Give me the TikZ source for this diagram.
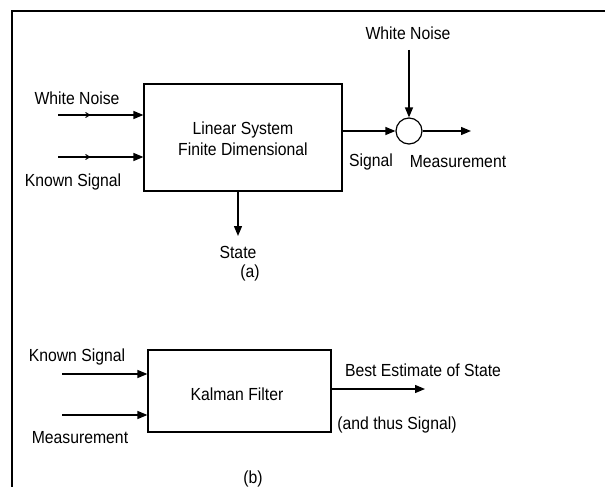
\documentclass[tikz,border=0pt]{standalone}
\usepackage{fontspec}
\setmainfont{Liberation Sans}[FakeStretch=0.9]
\usetikzlibrary{arrows.meta,decorations.markings}
\tikzset{
  blk/.style={draw, line width=1.2pt, rectangle, inner sep=0pt},
  lbl/.style={inner sep=0pt, font=\fontsize{17.5}{20}\selectfont},
  flow/.style={line width=1.3pt, -{Triangle[length=10pt,width=8pt]}},
  midtip/.style={postaction={decorate}, decoration={markings,
      mark=at position 0.38 with {\arrow{Straight Barb[length=4pt,width=5pt,line width=1pt]}}}}
}
\begin{document}
\begin{tikzpicture}[x=1pt,y=-1pt]
\useasboundingbox (0,0) rectangle (605,487);
% outer frame (top and left edges)
\draw[line width=1.4pt] (605,11) -- (12,11) -- (12,487);

% ---- (a) linear system ----
\node[blk, minimum width=198pt, minimum height=107pt] (sys) at (243,137.5) {};
\node[lbl, align=center] (systxt) at (243,139)
  {Linear System\\[1pt]Finite Dimensional};
\node[draw, circle, line width=1.2pt, minimum size=26pt, inner sep=0pt] (sum) at (409,131) {};

\node[lbl] (wn1) at (77,98) {White Noise};
\node[lbl] (ks1) at (73,182) {Known Signal};
\coordinate (wn1s) at (58,115);
\coordinate (ks1s) at (58,157);
\draw[flow, midtip] (wn1s) -- (wn1s -| sys.west);
\draw[flow, midtip] (ks1s) -- (ks1s -| sys.west);

\draw[flow] (sum -| sys.east) -- (sum.west);
\node[lbl] (sig) at (371,162) {Signal};
\node[lbl] (wn2) at (408,33) {White Noise};
\coordinate (wn2s) at (409,50);
\draw[flow] (wn2s) -- (sum.north);
\coordinate (meas1e) at (471,131);
\draw[flow] (sum.east) -- (meas1e);
\node[lbl] (meas1) at (458,162) {Measurement};

\coordinate (sts) at (238,191);
\coordinate (ste) at (238,236);
\draw[flow] (sts) -- (ste);
\node[lbl] (state) at (238,252) {State};
\node[lbl] (capa) at (250,273) {(a)};

% ---- (b) Kalman filter ----
\node[blk, minimum width=183pt, minimum height=82pt] (kf) at (239.5,391) {};
\node[lbl] (kftxt) at (237,394) {Kalman Filter};
\node[lbl] (ks2) at (77,357) {Known Signal};
\node[lbl] (meas2) at (80,438) {Measurement};
\coordinate (ks2s) at (62,374);
\coordinate (meas2s) at (62,415);
\draw[flow] (ks2s) -- (ks2s -| kf.west);
\draw[flow] (meas2s) -- (meas2s -| kf.west);
\coordinate (beste) at (425,389);
\draw[flow] (beste -| kf.east) -- (beste);
\node[lbl] (best) at (423,370) {Best Estimate of State};
\node[lbl] (thus) at (397,425) {(and thus Signal)};
\node[lbl] (capb) at (253,479) {(b)};
\end{tikzpicture}
\end{document}
